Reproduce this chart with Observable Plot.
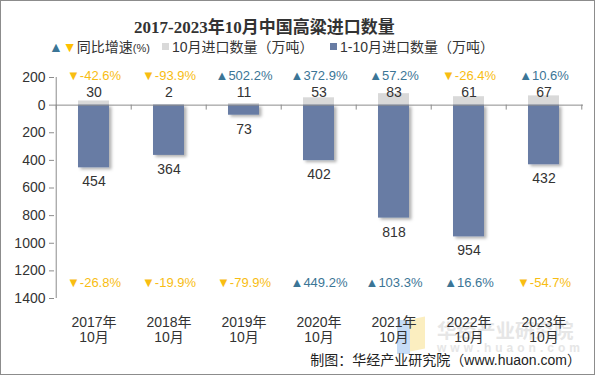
<!DOCTYPE html>
<html>
<head>
<meta charset="utf-8">
<script src="https://cdn.jsdelivr.net/npm/d3@7"></script>
<script src="https://cdn.jsdelivr.net/npm/@observablehq/plot@0.6"></script>
<style>
  body { margin: 0; background: #fff; }
  #wrap { position: relative; width: 595px; height: 375px; overflow: hidden; background: #fff;
          font-family: "Liberation Sans", "Noto Sans CJK SC", sans-serif; color: #333; }
  #frame { position: absolute; left: 0; top: 0; width: 595px; height: 375px; box-sizing: border-box;
           border: 1px solid #8c8c8c; pointer-events: none; }
  #title { position: absolute; top: 13px; left: 134px; font-size: 17px; font-weight: bold;
           font-family: "Liberation Serif", "Noto Sans CJK SC", serif; color: #333; white-space: nowrap; }
  .leg { position: absolute; top: 38px; font-size: 14px; white-space: nowrap; color: #333; line-height: 18px; }
  .sw { display: inline-block; width: 7px; height: 7px; margin-right: 3px; vertical-align: 2px; }
  #plot { position: absolute; left: 0; top: 60px; }
  #wm { position: absolute; left: 437px; top: 315px; color: #e6e6e6; font-size: 19.5px; font-weight: bold;
        font-family: "Noto Sans CJK SC", sans-serif; white-space: nowrap; }
  #wm2 { position: absolute; left: 437px; top: 341px; color: #e6e6e6; font-size: 12px; font-weight: bold;
         letter-spacing: 4px; white-space: nowrap; }
  #logo1 { position: absolute; left: 397px; top: 320px; width: 13px; height: 34px; background: #c6dcf6; }
  #logo2 { position: absolute; left: 410px; top: 318px; width: 15px; height: 32px; background: #fbeec0;
           transform: skewY(-12deg); }
  #caption { position: absolute; right: 14px; top: 349px; font-size: 14px; color: #222; white-space: nowrap; }
</style>
</head>
<body>
<div id="wrap">
  <div id="logo1"></div><div id="logo2"></div>
  <div id="wm">华经产业研究院</div>
  <div id="wm2">www.huaon.com</div>
  <div id="title">2017-2023年10月中国高粱进口数量</div>
  <div class="leg" style="left:49px"><span style="color:#3b7596">▲</span><span style="color:#ffc000">▼</span>同比增速<span style="font-size:11px">(%)</span></div>
  <div class="leg" style="left:162px"><span class="sw" style="background:#d9d9d9"></span>10月进口数量（万吨）</div>
  <div class="leg" style="left:330px"><span class="sw" style="background:#687ca4"></span>1-10月进口数量（万吨）</div>
  <div id="plot"></div>
  <div id="caption">制图：华经产业研究院（www.huaon.com）</div>
  <div id="frame"></div>
</div>
<script>
const years = ["2017年", "2018年", "2019年", "2020年", "2021年", "2022年", "2023年"];
const monthLabel = "10月";
const octQty = [30, 2, 11, 53, 83, 61, 67];          // 10月进口数量（万吨）
const ytdQty = [454, 364, 73, 402, 818, 954, 432];   // 1-10月进口数量（万吨）
const octYoY = [-42.6, -93.9, 502.2, 372.9, 57.2, -26.4, 10.6];
const ytdYoY = [-26.8, -19.9, -79.9, 449.2, 103.3, 16.6, -54.7];
const yTicks = [200, 0, -200, -400, -600, -800, -1000, -1200, -1400];

const data = years.map((y, i) => ({
  cat: y, oct: octQty[i], ytd: -ytdQty[i], ytdAbs: ytdQty[i],
  octYoY: octYoY[i], ytdYoY: ytdYoY[i]
}));

const W = 595, H = 290, mL = 54, mR = 12, mT = 17, mB = 52;
const step = (W - mL - mR) / years.length;
const UP = "#3b7596", DOWN = "#f8bd12";
const fmt = v => (v > 0 ? "▲" : "▼") + v.toFixed(1) + "%";

const plot = Plot.plot({
  width: W, height: H,
  marginLeft: mL, marginRight: mR, marginTop: mT, marginBottom: mB,
  style: { fontFamily: "Liberation Sans, Noto Sans CJK SC, sans-serif", fontSize: "14px", color: "#333", background: "transparent" },
  x: { domain: years, paddingInner: 0.59, paddingOuter: 0.295, axis: null },
  y: { domain: [-1400, 200], axis: null },
  marks: [
    Plot.barY(data, { x: "cat", y: "oct", fill: "#d9d9d9" }),
    Plot.barY(data, { x: "cat", y: "ytd", fill: "#687ca4" }),
    Plot.ruleY([0], { stroke: "#8c8c8c" }),
    Plot.ruleX(data, { x: "cat", dx: -step / 2, y1: 0, y2: -36, stroke: "#8c8c8c" }),
    Plot.ruleX(data.slice(-1), { x: "cat", dx: step / 2, y1: 0, y2: -36, stroke: "#8c8c8c" }),
    Plot.ruleX(data.slice(0, 1), { x: "cat", dx: -step / 2, y1: 200, y2: -1400, stroke: "#8c8c8c" }),
    Plot.axisY({ ticks: yTicks, tickFormat: d => String(Math.abs(d)), tickSize: 5, tickPadding: 4,
                 stroke: "#8c8c8c", fill: "#333", fontSize: 14 }),
    Plot.text(data, { x: "cat", y: 90, text: d => String(d.oct), fill: "#333", fontSize: 14 }),
    Plot.text(data, { x: "cat", y: "ytd", dy: 14, text: d => String(d.ytdAbs), fill: "#333", fontSize: 14 }),
    Plot.text(data, { x: "cat", y: 210, text: d => fmt(d.octYoY), fill: d => d.octYoY > 0 ? UP : DOWN, fontSize: 13 }),
    Plot.text(data, { x: "cat", y: -1285, text: d => fmt(d.ytdYoY), fill: d => d.ytdYoY > 0 ? UP : DOWN, fontSize: 13 }),
    Plot.text(data, { x: "cat", y: -1400, dy: 24, text: "cat", fill: "#333", fontSize: 14 }),
    Plot.text(data, { x: "cat", y: -1400, dy: 39, text: () => monthLabel, fill: "#333", fontSize: 14 })
  ]
});

// soft drop shadow on the 1-10月 bars
const svg = d3.select(plot);
const defs = svg.insert("defs", ":first-child");
defs.append("filter").attr("id", "shadow").attr("x", "-20%").attr("y", "-20%").attr("width", "160%").attr("height", "160%")
  .append("feDropShadow").attr("dx", 2.5).attr("dy", 2).attr("stdDeviation", 1.5).attr("flood-color", "#000").attr("flood-opacity", 0.3);
const bars = svg.selectAll('g[aria-label="bar"]').nodes();
if (bars.length > 1) d3.select(bars[1]).attr("filter", "url(#shadow)");

document.getElementById("plot").appendChild(plot);
</script>
</body>
</html>
